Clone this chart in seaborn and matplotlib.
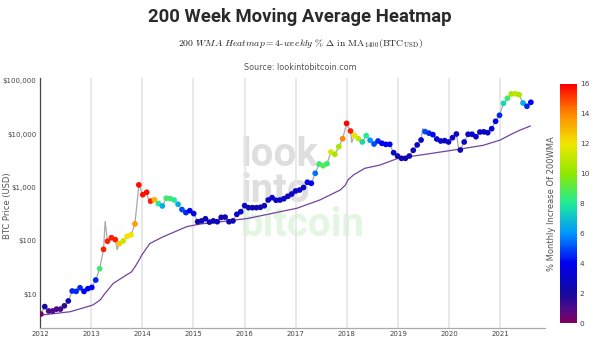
import numpy as np
import pandas as pd
import matplotlib
matplotlib.use("Agg")
import matplotlib.pyplot as plt
import matplotlib.dates as mdates
from matplotlib.colors import LinearSegmentedColormap, Normalize
from matplotlib.cm import ScalarMappable
from matplotlib.ticker import FixedLocator, FuncFormatter
import seaborn as sns

# ---- data -------------------------------------------------------------
# 4-weekly BTC closes (USD), first sample 2012-01-07, one every 28 days
btc_price = [
    4.2, 5.8, 4.8, 4.8, 5.2, 5.2, 6.0, 7.4, 11.4, 11.2,
    13.1, 11.2, 12.6, 13.3, 18.3, 29.9, 69, 98, 114, 105,
    88, 99, 121, 129, 207, 1120, 733, 813, 557, 590,
    497, 450, 630, 620, 582, 484, 385, 338, 367, 324,
    228, 236, 259, 224, 236, 228, 275, 278, 228, 236,
    314, 351, 457, 418, 418, 418, 425, 455, 582, 645,
    576, 582, 618, 684, 755, 860, 897, 1000, 1255, 1200,
    1850, 2760, 2570, 2800, 4640, 4200, 5840, 8260, 16000, 11500,
    9550, 8260, 7160, 9400, 7700, 6560, 7470, 6760, 6460, 6460,
    4500, 3900, 3530, 3530, 3900, 5000, 6300, 7800, 11200, 10500,
    9840, 8130, 7470, 7570, 7160, 8600, 10100, 5060, 7160, 10000,
    10000, 9000, 11000, 11100, 10700, 12700, 17500, 22700, 38000, 47300,
    57000, 57600, 55300, 38600, 33500, 39800,
]
# % change of the 200 week moving average over the preceding 4 weeks
wma_pct_change = [
    0.3, 2.0, 1.0, 1.0, 1.0, 1.0, 1.5, 2.5, 4.5, 4.5,
    4.5, 4.0, 4.0, 4.0, 4.5, 8.5, 15.5, 15.5, 15.5, 15.5,
    12.5, 11.0, 12.0, 12.0, 13.5, 15.8, 15.8, 15.8, 15.5, 13.0,
    8.0, 6.5, 8.5, 8.5, 8.0, 6.5, 5.0, 4.5, 4.0, 3.5,
    2.5, 2.5, 2.5, 2.5, 2.5, 2.5, 2.5, 2.5, 2.5, 2.5,
    3.0, 3.0, 3.0, 2.5, 2.5, 2.5, 2.5, 2.5, 3.0, 3.0,
    3.0, 3.0, 3.0, 3.0, 3.0, 3.0, 3.0, 3.0, 4.0, 4.0,
    5.5, 8.5, 9.0, 8.5, 11.5, 10.5, 10.5, 14.0, 16.0, 15.5,
    12.0, 11.0, 7.5, 8.0, 6.0, 5.0, 4.5, 4.0, 4.0, 4.0,
    3.0, 2.5, 2.5, 2.5, 2.5, 2.5, 3.0, 3.0, 5.0, 4.5,
    4.0, 3.5, 3.0, 3.0, 3.0, 3.0, 3.0, 2.5, 3.0, 3.0,
    3.0, 3.0, 3.0, 3.0, 3.0, 3.5, 4.0, 4.5, 7.5, 8.5,
    10.5, 11.0, 10.5, 6.5, 4.5, 4.0,
]
sample_dates = pd.date_range("2012-01-07", periods=len(btc_price), freq="28D")

# intra-period highs and lows shown by the weekly price trace
weekly_extra_dates = ["2013-04-10", "2013-07-05", "2014-02-20", "2018-02-05",
                      "2019-06-26", "2020-03-13", "2021-04-14"]
weekly_extra_price = [230, 68, 500, 7000, 12800, 4700, 63000]

# 200 week moving average
wma_dates = [
    "2012-01-01", "2012-08-04", "2013-01-12", "2013-03-05", "2013-04-10",
    "2013-06-07", "2013-08-19", "2013-10-15", "2013-11-10", "2013-12-10",
    "2013-12-28", "2014-02-24", "2014-05-30", "2014-11-14", "2015-02-17",
    "2015-07-19", "2016-01-26", "2017-01-08", "2017-06-21", "2017-11-14",
    "2017-12-20", "2018-01-10", "2018-02-17", "2018-05-08", "2018-08-25",
    "2019-01-01", "2019-08-28", "2020-03-07", "2020-09-01", "2021-01-01",
    "2021-03-10", "2021-05-23", "2021-08-04",
]
wma_value = [
    4.0, 4.65, 6.2, 7.7, 10.3,
    15.8, 21, 26, 32.5, 44,
    54, 89, 119, 184, 206,
    228, 263, 407, 582, 897,
    1100, 1400, 1720, 2290, 2640,
    3530, 4370, 5210, 6200, 7800,
    9700, 12000, 14300,
]

year_ticks = list(range(2012, 2022))
price_ticks = [10, 100, 1000, 10000, 100000]
pct_ticks = list(range(0, 17, 2))

# ---- frames -----------------------------------------------------------
dots = pd.DataFrame({"date": sample_dates, "price": btc_price,
                     "pct": wma_pct_change})
trace = pd.concat([
    dots[["date", "price"]],
    pd.DataFrame({"date": pd.to_datetime(weekly_extra_dates),
                  "price": weekly_extra_price}),
]).sort_values("date")
wma = pd.DataFrame({"date": pd.to_datetime(wma_dates), "wma": wma_value})

# ---- colours ----------------------------------------------------------
heat = LinearSegmentedColormap.from_list("heat", [
    (0.0, "#80005e"), (0.0625, "#4a0a8c"), (0.125, "#14099e"),
    (0.25, "#0000f0"), (0.375, "#0096ff"), (0.5, "#1eeb99"),
    (0.625, "#8ee800"), (0.75, "#f0e600"), (0.875, "#ff8a00"),
    (1.0, "#ff0000"),
])
norm = Normalize(0, 16)

# ---- figure -----------------------------------------------------------
sns.set_theme(style="white")
plt.rcParams["font.family"] = ["DejaVu Sans"]
plt.rcParams["mathtext.fontset"] = "cm"

fig = plt.figure(figsize=(6.0, 3.47), dpi=100)
ax = fig.add_axes([40 / 600, 1 - 328 / 347, 505 / 600, 250 / 347])

# watermark
for label, ypos, colour in (("look", 0.69, "#dedede"),
                            ("into", 0.55, "#dedede"),
                            ("bitcoin", 0.41, "#e2f6e2")):
    ax.text(0.398, ypos, label, transform=ax.transAxes, fontsize=29,
            fontweight="bold", family="Roboto", color=colour, zorder=0,
            va="center", ha="left")

sns.lineplot(data=trace, x="date", y="price", ax=ax, color="#a8a8a8",
             linewidth=0.9, zorder=2)
sns.lineplot(data=wma, x="date", y="wma", ax=ax, color="#74439a",
             linewidth=0.9, zorder=3)
sns.scatterplot(data=dots, x="date", y="price", hue="pct",
                palette=heat, hue_norm=norm, ax=ax, s=17, linewidth=0,
                legend=False, zorder=4)

ax.set_yscale("log")
ax.set_ylim(2.3, 113800)
ax.set_xlim(pd.Timestamp("2012-01-01"), pd.Timestamp("2021-11-16"))

ax.xaxis.set_major_locator(FixedLocator(
    [mdates.date2num(pd.Timestamp(f"{y}-01-01")) for y in year_ticks]))
ax.xaxis.set_major_formatter(mdates.DateFormatter("%Y"))
ax.yaxis.set_major_locator(FixedLocator(price_ticks))
ax.yaxis.set_minor_locator(FixedLocator([]))
ax.yaxis.set_major_formatter(FuncFormatter(lambda v, p: f"${v:,.0f}"))

ax.grid(axis="x", color="#e6e6e6", linewidth=1.3)
ax.grid(axis="y", visible=False)
ax.set_axisbelow(True)
for side in ("top", "right"):
    ax.spines[side].set_visible(False)
ax.spines["left"].set_color("#444444")
ax.spines["left"].set_linewidth(0.9)
ax.spines["bottom"].set_color("#aaaaaa")
ax.spines["bottom"].set_linewidth(0.9)
ax.tick_params(axis="both", length=0, labelsize=5.0, labelcolor="#444444",
               pad=2.5)
ax.set_xlabel("")
ax.set_ylabel("BTC Price (USD)", fontsize=6, color="#555555")
ax.yaxis.set_label_coords(-28 / 505, 0.49)

# colour bar
cax = fig.add_axes([560 / 600, 1 - 323 / 347, 17 / 600, 239 / 347])
cb = fig.colorbar(ScalarMappable(norm=norm, cmap=heat), cax=cax)
cb.outline.set_visible(False)
cb.set_ticks(pct_ticks)
cax.tick_params(length=0, labelsize=5.3, labelcolor="#444444", pad=2)
cax.yaxis.set_label_position("left")
cb.set_label("% Monthly Increase Of 200WMA", fontsize=6, color="#555555",
             labelpad=3)

# titles
fig.text(0.5, 1 - 17 / 347, "200 Week Moving Average Heatmap",
         ha="center", va="center", fontsize=13.3, fontweight="bold",
         family="Roboto", color="#2a2a2a")
fig.text(0.5, 1 - 44 / 347,
         r"$\mathit{200\ WMA\ Heatmap} = \mathit{4{\text{-}}weekly}\ \%\ \Delta\ "
         r"\mathrm{in}\ \mathrm{MA}_{1400}(\mathrm{BTC}_{\mathrm{USD}})$",
         ha="center", va="center", fontsize=7, color="#222222")
fig.text(0.5, 1 - 68 / 347, "Source: lookintobitcoin.com",
         ha="center", va="center", fontsize=5.8, color="#555555")

fig.savefig("out.png", dpi=100)
